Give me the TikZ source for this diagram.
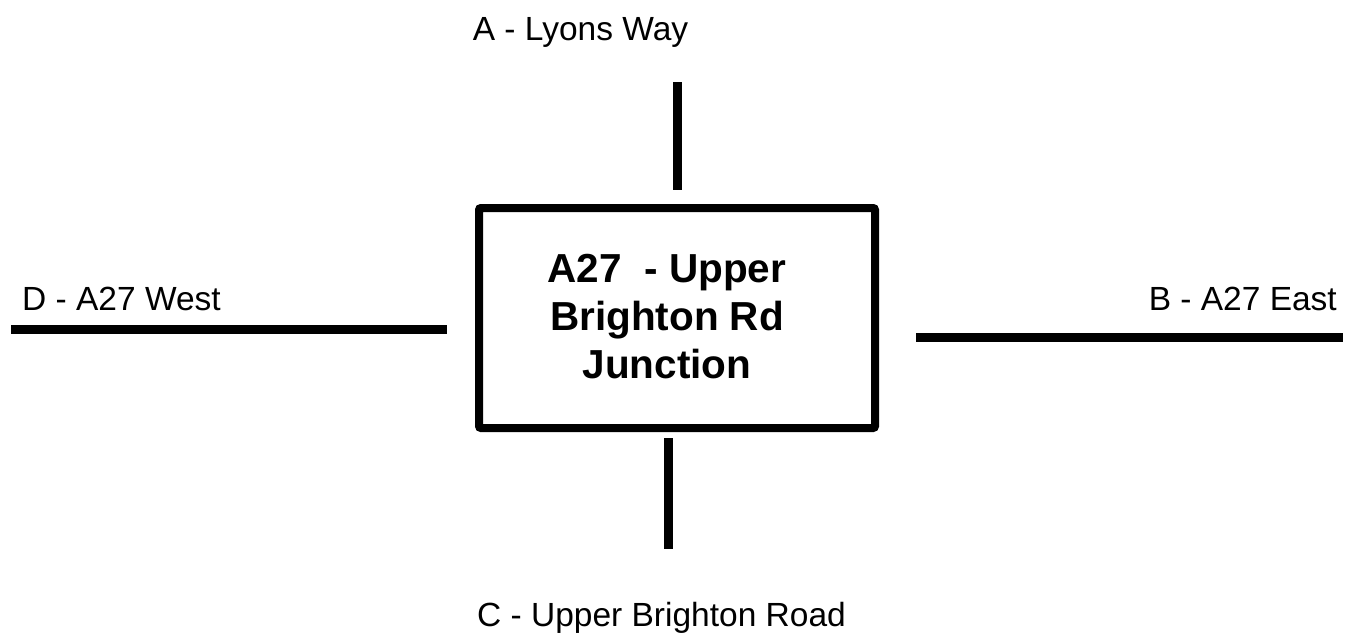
\documentclass[tikz,border=0pt]{standalone}
\usepackage{fontspec}
\setmainfont{Liberation Sans}
\begin{document}
\begin{tikzpicture}[x=1pt,y=-1pt,
  road/.style={line width=9pt},
  lbl/.style={inner sep=0pt, font=\fontsize{33.5}{38}\selectfont},
  junction/.style={draw, line width=8pt, rounded corners=2pt, minimum width=396pt, minimum height=220pt, inner sep=0pt}]
\useasboundingbox (0,0) rectangle (1349,640);
\node[junction] (box) at (677,318) {};
\node[inner sep=0pt, align=center, font=\bfseries\fontsize{40.5}{48}\selectfont] (title) at (667,316.5) {A27\ \ - Upper\\Brighton Rd\\Junction};
% road ends
\coordinate (a1) at (677.5,82);  \coordinate (a2) at (677.5,190);
\coordinate (c1) at (668,438);   \coordinate (c2) at (668,549);
\coordinate (d1) at (11,329.5);  \coordinate (d2) at (447,329.5);
\coordinate (b1) at (916,337.5); \coordinate (b2) at (1343,337.5);
\draw[road] (a1) -- (a2);
\draw[road] (c1) -- (c2);
\draw[road] (d1) -- (d2);
\draw[road] (b1) -- (b2);
% labels
\node[lbl, anchor=base] (la) at (580.5,40) {A - Lyons Way};
\node[lbl, anchor=base] (lc) at (661.5,626) {C - Upper Brighton Road};
\node[lbl, anchor=base west] (ld) at (22,310) {D - A27 West};
\node[lbl, anchor=base east] (lb) at (1337,310) {B - A27 East};
\end{tikzpicture}
\end{document}
